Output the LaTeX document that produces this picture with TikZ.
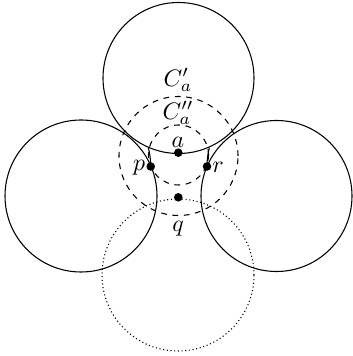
\documentclass[tikz,border=0pt]{standalone}
\begin{document}
\begin{tikzpicture}[x=0.42pt,y=0.42pt,
  solidc/.style={line width=0.45pt},
  dashc/.style={line width=0.45pt,dash pattern=on 2.4pt off 2.4pt},
  dotc/.style={line width=0.45pt,dash pattern=on 0.45pt off 1.1pt},
  dotpt/.style={circle,fill=black,inner sep=0pt,minimum size=3.6pt},
  lbl/.style={inner sep=0pt}]
\useasboundingbox (0,0) rectangle (352,356);
% big circles
\draw[solidc] (178.5,278) circle (75.5);
\draw[solidc] (81,160) circle (76);
\draw[solidc] (276.5,160) circle (75.5);
\draw[dotc] (178,81) circle (76);
% dashed circles
\draw[dashc] (178.5,200) circle (59.5);
\draw[dashc] (178.5,201) circle (30);
% points
\node[dotpt] (a) at (178.3,203.3) {};
\node[dotpt] (p) at (150.7,189.5) {};
\node[dotpt] (r) at (207,189.5) {};
\node[dotpt] (q) at (178.3,158.7) {};
% short arcs
\draw[solidc] (p.center) arc[start angle=0,end angle=14,radius=76];
\draw[solidc] (r.center) arc[start angle=180,end angle=166,radius=76];
% labels
\node[lbl] (lCp) at (178,276) {$C'_a$};
\node[lbl] (lCpp) at (178,243) {$C''_a$};
\node[lbl] (la) at (178,214) {$a$};
\node[lbl] (lp) at (139,188) {$p$};
\node[lbl] (lr) at (218,188.5) {$r$};
\node[lbl] (lq) at (178,127) {$q$};
\end{tikzpicture}
\end{document}
